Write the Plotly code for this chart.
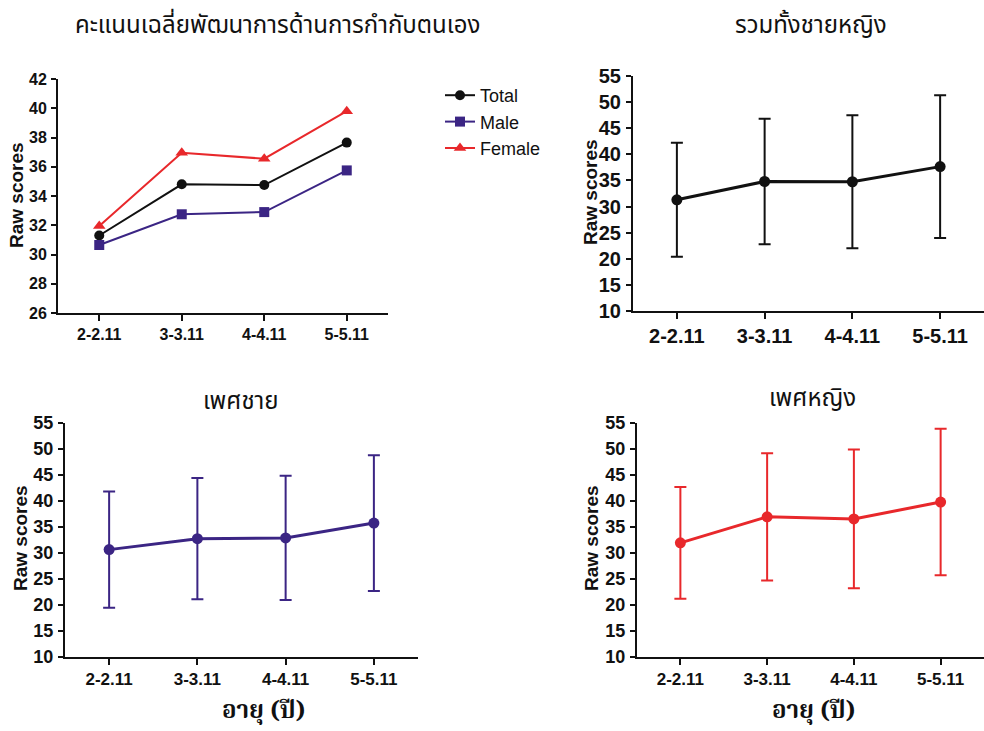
import plotly.graph_objects as go

# ---------------- data ----------------
age_groups = ["2-2.11", "3-3.11", "4-4.11", "5-5.11"]

total_mean = [31.3, 34.8, 34.75, 37.65]
male_mean = [30.65, 32.75, 32.9, 35.75]
female_mean = [31.95, 36.95, 36.55, 39.8]

total_sd = [10.9, 12.0, 12.75, 13.65]
male_sd = [11.2, 11.65, 11.95, 13.05]
female_sd = [10.75, 12.25, 13.35, 14.1]

series_names = ["Total", "Male", "Female"]

titles = ["คะแนนเฉลี่ยพัฒนาการด้านการกำกับตนเอง", "รวมทั้งชายหญิง", "เพศชาย", "เพศหญิง"]
y_title = "Raw scores"
x_title = "อายุ (ปี)"

topleft_ticks = [26, 28, 30, 32, 34, 36, 38, 40, 42]
sd_ticks = [10, 15, 20, 25, 30, 35, 40, 45, 50, 55]

# ---------------- style ----------------
BLACK = "#111111"
PURPLE = "#3B2584"
RED = "#E8282B"
W, H = 984, 731
THAI = "Tahoma, 'Noto Sans Thai', 'Noto Sans', 'DejaVu Sans', sans-serif"
THAI_SERIF = "'Noto Serif Thai', 'TH Sarabun New', 'Noto Sans Thai', serif"
ARIAL = "Arial, 'Liberation Sans', sans-serif"

def px_x(p):
    return p / W

def px_y(p):
    return 1 - p / H

fig = go.Figure()

# top-left: means of all three groups
sym = ["circle", "square", "triangle-up"]
cols = [BLACK, PURPLE, RED]
sizes = [10, 10, 11]
for name, vals, s, c, sz in zip(series_names, [total_mean, male_mean, female_mean], sym, cols, sizes):
    fig.add_trace(go.Scatter(
        x=age_groups, y=vals, mode="lines+markers", name=name,
        line=dict(color=c, width=2), marker=dict(symbol=s, size=sz, color=c),
        xaxis="x", yaxis="y", showlegend=True, cliponaxis=False))

# panels with SD error bars
panels = [("x2", "y2", total_mean, total_sd, BLACK),
          ("x3", "y3", male_mean, male_sd, PURPLE),
          ("x4", "y4", female_mean, female_sd, RED)]
for xa, ya, m, sd, c in panels:
    fig.add_trace(go.Scatter(
        x=age_groups, y=m, mode="lines+markers", showlegend=False,
        line=dict(color=c, width=3), marker=dict(symbol="circle", size=11, color=c),
        error_y=dict(type="data", array=sd, visible=True, color=c, thickness=2, width=6),
        xaxis=xa, yaxis=ya, cliponaxis=False))

def xaxis(dom, anchor, fs):
    return dict(domain=dom, anchor=anchor, type="category", range=[-0.5, 3.5],
                showline=True, linecolor=BLACK, linewidth=2, ticks="outside",
                ticklen=6, tickwidth=2, tickcolor=BLACK, showgrid=False, zeroline=False,
                tickfont=dict(family=ARIAL, size=fs, color=BLACK, weight="bold"),
                fixedrange=True, automargin=False)

def yaxis(dom, anchor, rng, tv, fs):
    return dict(domain=dom, anchor=anchor, range=rng, tickvals=tv,
                showline=True, linecolor=BLACK, linewidth=2, ticks="outside",
                ticklen=5, tickwidth=2, tickcolor=BLACK, showgrid=False, zeroline=False,
                ticklabelstandoff=1,
                tickfont=dict(family=ARIAL, size=fs, color=BLACK, weight="bold"),
                fixedrange=True, automargin=False)

fig.update_layout(
    width=W, height=H, margin=dict(l=0, r=0, t=0, b=0),
    paper_bgcolor="white", plot_bgcolor="white",
    xaxis=xaxis([px_x(58), px_x(388)], "y", 16),
    yaxis=yaxis([px_y(313), px_y(79)], "x", [26, 42], topleft_ticks, 16),
    xaxis2=xaxis([px_x(633), 1.0], "y2", 20),
    yaxis2=yaxis([px_y(311), px_y(76)], "x2", [10, 55], sd_ticks, 20),
    xaxis3=xaxis([px_x(65), px_x(418)], "y3", 17),
    yaxis3=yaxis([px_y(657), px_y(423)], "x3", [10, 55], sd_ticks, 18),
    xaxis4=xaxis([px_x(637), 1.0], "y4", 17),
    yaxis4=yaxis([px_y(657), px_y(423)], "x4", [10, 55], sd_ticks, 18),
    legend=dict(x=px_x(440), y=px_y(77), xanchor="left", yanchor="top",
                font=dict(family=ARIAL, size=18, color=BLACK),
                itemwidth=30, tracegroupgap=0, bgcolor="rgba(0,0,0,0)"),
    showlegend=True,
)

annos = []
# titles
for txt, x, y in zip(titles, [277, 811, 241, 812], [26, 26, 402, 399]):
    annos.append(dict(text=txt, x=px_x(x), y=px_y(y), xref="paper", yref="paper",
                      xanchor="center", yanchor="middle", showarrow=False,
                      font=dict(family=THAI, size=24, color=BLACK)))
# y titles
for x, y in [(16, 195), (590, 192), (20, 538), (591, 538)]:
    annos.append(dict(text=y_title, x=px_x(x), y=px_y(y), xref="paper", yref="paper",
                      xanchor="center", yanchor="middle", showarrow=False, textangle=-90,
                      font=dict(family=ARIAL, size=19, color=BLACK, weight="bold")))
# x titles
for x in [263, 813]:
    annos.append(dict(text=x_title, x=px_x(x), y=px_y(711), xref="paper", yref="paper",
                      xanchor="center", yanchor="middle", showarrow=False,
                      font=dict(family=THAI_SERIF, size=24, color=BLACK, weight="bold")))
fig.update_layout(annotations=annos)

fig.write_html("out.html", config={"displayModeBar": False},
               post_script="document.body.style.margin='0';document.body.style.overflow='hidden';")
